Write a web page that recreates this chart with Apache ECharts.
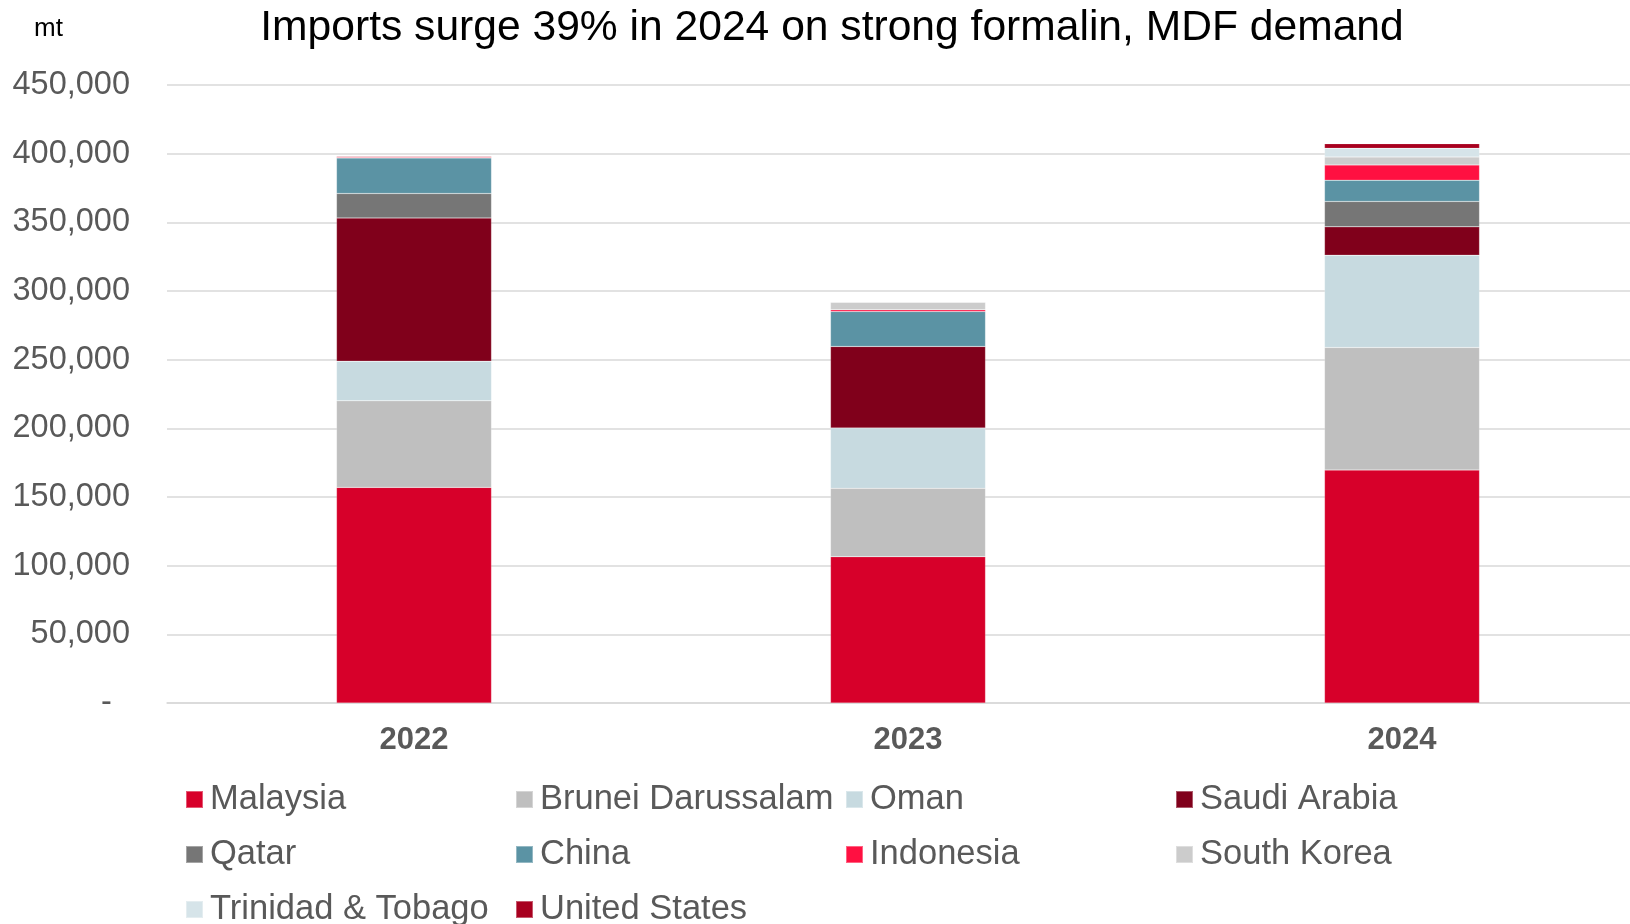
<!DOCTYPE html>
<html>
<head>
<meta charset="utf-8">
<title>Imports by origin</title>
<script src="https://cdn.jsdelivr.net/npm/echarts@6/dist/echarts.min.js"></script>
<style>
  html, body { margin: 0; padding: 0; background: #fff; overflow: hidden; }
  /* the plot runs slightly past the right edge of the page */
  #chart { width: 1660px; height: 924px; }
</style>
</head>
<body>
<div id="chart"></div>
<script>
// Import volumes (mt) by country of origin
const years = ['2022', '2023', '2024'];

const malaysia    = [157000, 106500, 169600];
const brunei      = [63000, 49800, 89300];
const oman        = [28900, 44000, 67200];
const saudiArabia = [104300, 59300, 20600];
const qatar       = [17800, 0, 18500];
const china       = [25900, 25500, 15500];
const indonesia   = [700, 1200, 11100];
const southKorea  = [0, 5500, 5800];
const trinidad    = [0, 0, 6300];
const unitedStates = [500, 400, 3400];

const seriesDefs = [
  { name: 'Malaysia', data: malaysia, color: '#D7002A' },
  { name: 'Brunei Darussalam', data: brunei, color: '#BFBFBF' },
  { name: 'Oman', data: oman, color: '#C7DAE0' },
  { name: 'Saudi Arabia', data: saudiArabia, color: '#80001B' },
  { name: 'Qatar', data: qatar, color: '#767676' },
  { name: 'China', data: china, color: '#5B93A4' },
  { name: 'Indonesia', data: indonesia, color: '#FF1041' },
  { name: 'South Korea', data: southKorea, color: '#CCCCCC' },
  { name: 'Trinidad & Tobago', data: trinidad, color: '#D6E4E9' },
  { name: 'United States', data: unitedStates, color: '#A8001F' }
];

const FONT = "'Liberation Sans', Arial, sans-serif";

const chart = echarts.init(document.getElementById('chart'), null, { renderer: 'canvas' });

chart.setOption({
  animation: false,
  backgroundColor: '#ffffff',
  title: {
    text: 'Imports surge 39% in 2024 on strong formalin, MDF demand',
    left: 832,
    top: 7,
    textAlign: 'center',
    padding: 0,
    textStyle: { fontFamily: FONT, fontSize: 42.6, fontWeight: 'normal', color: '#000000' }
  },
  graphic: [{
    type: 'text',
    left: 34,
    top: 16,
    style: { text: 'mt', fontFamily: FONT, fontSize: 26, fill: '#000000' }
  }],
  grid: { left: 167, top: 85, width: 1482, height: 618, containLabel: false },
  xAxis: {
    type: 'category',
    data: years,
    axisLine: { show: true, lineStyle: { color: '#D9D9D9', width: 1.5 } },
    axisTick: { show: false },
    axisLabel: {
      margin: 22,
      fontFamily: FONT, fontSize: 31, fontWeight: 'bold', color: '#595959'
    }
  },
  yAxis: {
    type: 'value',
    min: 0,
    max: 450000,
    interval: 50000,
    axisLine: { show: false },
    axisTick: { show: false },
    splitLine: { lineStyle: { color: '#D9D9D9', width: 1.5 } },
    axisLabel: {
      margin: 37,
      fontFamily: FONT, fontSize: 32.5, color: '#595959',
      formatter: v => v === 0 ? '-  ' : v.toLocaleString('en-US')
    }
  },
  legend: {
    left: 180,
    top: 767,
    width: 1400,
    orient: 'horizontal',
    itemGap: 0,
    itemWidth: 17,
    itemHeight: 17,
    icon: 'rect',
    textStyle: {
      fontFamily: FONT, fontSize: 34.5, color: '#595959',
      width: 305, lineHeight: 55, padding: [0, 0, 0, 2]
    },
    data: seriesDefs.map(s => s.name)
  },
  series: seriesDefs.map(s => ({
    name: s.name,
    type: 'bar',
    stack: 'total',
    barWidth: 155,
    data: s.data,
    itemStyle: { color: s.color, borderColor: 'rgba(255,255,255,0.35)', borderWidth: 0.5 },
    emphasis: { disabled: true }
  }))
});
</script>
</body>
</html>
